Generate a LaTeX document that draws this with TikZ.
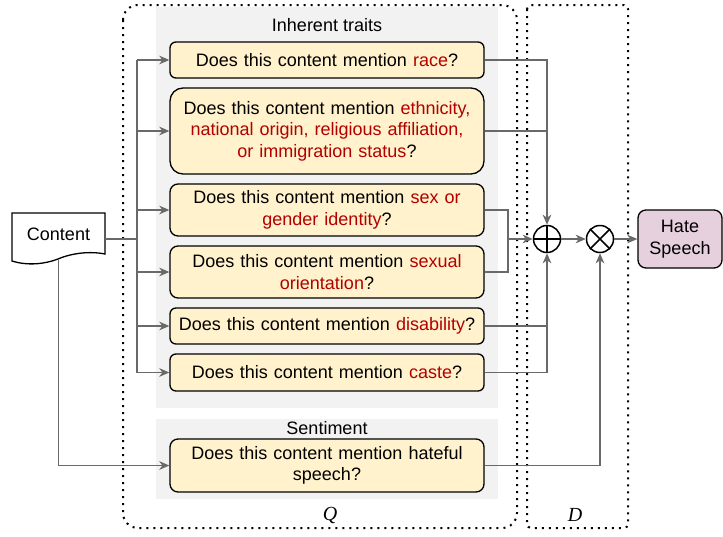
\documentclass[tikz,border=0pt]{standalone}
\usepackage{fontspec}
\setmainfont{Liberation Sans}
\newfontfamily\timesf{Liberation Serif}
\usetikzlibrary{arrows.meta,calc}
\definecolor{qyellow}{RGB}{255,242,204}
\definecolor{panelgray}{RGB}{242,242,242}
\definecolor{hatepink}{RGB}{230,208,222}
\definecolor{mred}{RGB}{178,0,0}
\definecolor{conngray}{RGB}{105,105,105}
\newcommand{\rd}[1]{\textcolor{mred}{#1}}
\tikzset{
  qbox/.style={draw=black, line width=1.3pt, fill=qyellow, text width=310pt, align=center,
    inner sep=0pt, minimum width=314pt, font=\fontsize{18}{21.5}\selectfont},
  panel/.style={fill=panelgray, draw=none},
  dotbox/.style={draw=black, line width=2pt, dash pattern=on 2pt off 5pt},
  conn/.style={draw=conngray, line width=1.8pt},
  arr/.style={-{Stealth[length=10pt,width=8.5pt,inset=3pt]}},
  opcirc/.style={circle, draw=black, line width=1.5pt, minimum size=27pt, inner sep=0pt},
  lbl/.style={font=\fontsize{18}{21.5}\selectfont, inner sep=0pt},
  ital/.style={font=\timesf\itshape\fontsize{20}{24}\selectfont, inner sep=0pt}
}
\begin{document}
\begin{tikzpicture}[x=1pt,y=-1pt]
\useasboundingbox (0,0) rectangle (723,536);
% panels
\fill[panel] (156,7) rectangle (498,408);
\fill[panel] (156,419) rectangle (498,499);
\node[lbl] (inh) at (327,25) {Inherent traits};
\node[lbl] (sent) at (327,428) {Sentiment};
% dotted boxes
\draw[dotbox, rounded corners=15pt] (123,5) rectangle (517,528);
\draw[dotbox, rounded corners=4pt] (527,5) rectangle (628,528);
\node[ital] (Q) at (330,515) {Q};
\node[ital] (D) at (575,515) {D};
% question boxes
\node[qbox, rounded corners=6pt, minimum height=36pt] (race) at (327,60) {Does this content mention \rd{race}?};
\node[qbox, rounded corners=13pt, minimum height=86pt] (eth) at (327,131) {Does this content mention \rd{ethnicity,}\\ \rd{national origin, religious affiliation,}\\ \rd{or immigration status}?};
\node[qbox, rounded corners=8pt, minimum height=52pt] (sex) at (327,210) {Does this content mention \rd{sex or}\\ \rd{gender identity}?};
\node[qbox, rounded corners=8pt, minimum height=52pt] (sexual) at (327,272) {Does this content mention \rd{sexual}\\ \rd{orientation}?};
\node[qbox, rounded corners=6pt, minimum height=36pt] (disab) at (327,326) {Does this content mention \rd{disability}?};
\node[qbox, rounded corners=6pt, minimum height=37pt] (caste) at (327,372.5) {Does this content mention \rd{caste}?};
\node[qbox, rounded corners=8pt, minimum height=53pt] (hateful) at (327,465.5) {Does this content mention hateful\\ speech?};
% content document shape
\node[lbl, minimum width=93pt, minimum height=42pt] (content) at (58.5,234.5) {Content};
\draw[black, line width=1.3pt, fill=white] (12,213) -- (105,213) -- (105,254)
  .. controls (90,251) and (72,253) .. (58,259)
  .. controls (45,264) and (28,266) .. (12,261) -- cycle;
\node[lbl] at (content) {Content};
% operators
\node[opcirc] (oplus) at (547,239) {};
\draw[black, line width=1.5pt] (oplus.north) -- (oplus.south) (oplus.west) -- (oplus.east);
\node[opcirc] (otimes) at (600,239) {};
\draw[black, line width=1.5pt] (otimes.north west) -- (otimes.south east) (otimes.north east) -- (otimes.south west);
\node[draw=black, line width=1.3pt, fill=hatepink, rounded corners=8pt, minimum width=84pt, minimum height=58pt,
  align=center, inner sep=0pt, font=\fontsize{18}{21.5}\selectfont] (hate) at (680,239) {Hate\\Speech};
% bus coordinates
\coordinate (busx) at (137,0);
\coordinate (jx) at (508,0);
% left connectors
\draw[conn] ([yshift=-4.5pt]content.east) -- ([yshift=-4.5pt]content.east -| busx);
\draw[conn] (race.west -| busx) -- (caste.west -| busx);
\foreach \b in {race,eth,sex,sexual,disab,caste}{
  \draw[conn,arr] (\b.west -| busx) -- (\b.west);
}
\draw[conn,arr] ([yshift=-4.5pt]content.south) |- (hateful.west);
% right connectors
\draw[conn,arr] (race.east) -| (oplus.north);
\draw[conn] (eth.east) -- (eth.east -| oplus.north);
\draw[conn] (sex.east) -- (sex.east -| jx) -- (sexual.east -| jx) -- (sexual.east);
\draw[conn,arr] (jx |- oplus.west) -- (oplus.west);
\draw[conn,arr] (caste.east) -| (oplus.south);
\draw[conn] (disab.east) -- (disab.east -| oplus.south);
\draw[conn,arr] (hateful.east) -| (otimes.south);
\draw[conn,arr] (oplus.east) -- (otimes.west);
\draw[conn,arr] (otimes.east) -- (hate.west);
\end{tikzpicture}
\end{document}
